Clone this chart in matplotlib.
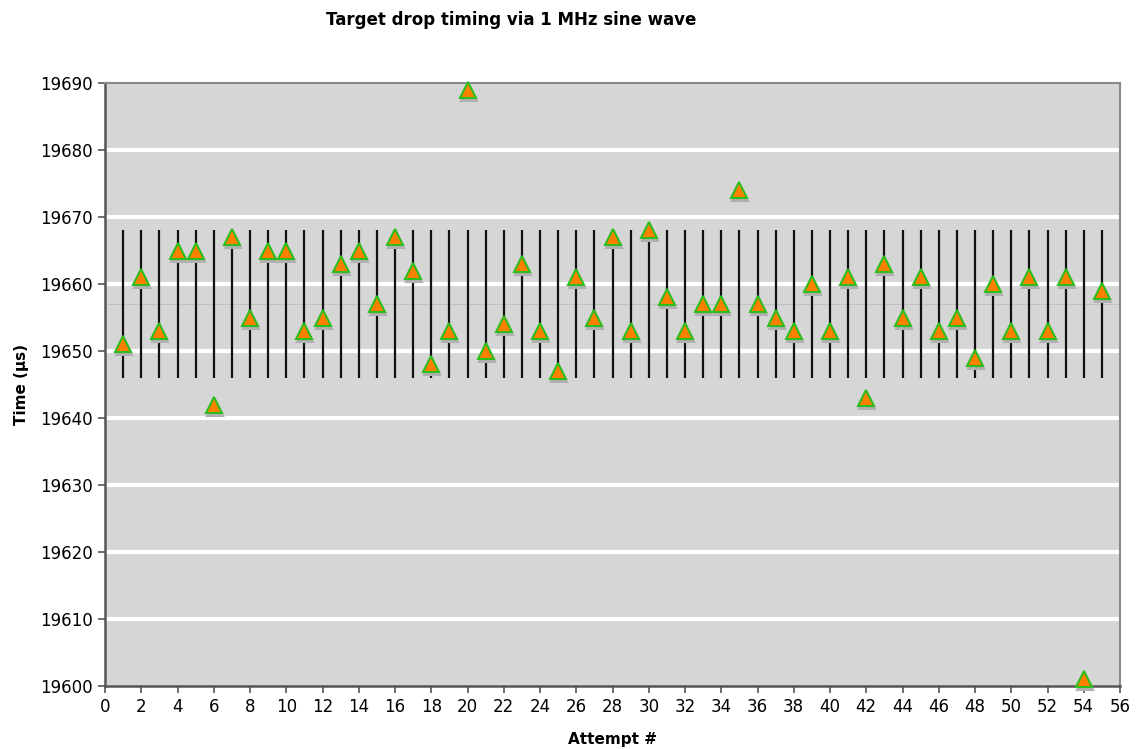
import matplotlib
matplotlib.use("Agg")
import matplotlib.pyplot as plt
import matplotlib.transforms as mtransforms

# ---- data ----
attempts = list(range(1, 56))
times = [19651, 19661, 19653, 19665, 19665, 19642, 19667, 19655, 19665, 19665,
         19653, 19655, 19663, 19665, 19657, 19667, 19662, 19648, 19653, 19689,
         19650, 19654, 19663, 19653, 19647, 19661, 19655, 19667, 19653, 19668,
         19658, 19653, 19657, 19657, 19674, 19657, 19655, 19653, 19660, 19653,
         19661, 19643, 19663, 19655, 19661, 19653, 19655, 19649, 19660, 19653,
         19661, 19653, 19661, 19601, 19659]
range_low = 19646
range_high = 19668
range_mid = 19657
x_ticks = list(range(0, 57, 2))
y_ticks = list(range(19600, 19691, 10))

plt.rcParams['font.family'] = ['DejaVu Sans']

fig = plt.figure(figsize=(11.38, 7.49), dpi=100)
ax = fig.add_axes([105/1138, 1 - 686/749, (1120-105)/1138, (686-83)/749])
ax.set_facecolor('#D6D6D6')

ax.set_xlim(0, 56)
ax.set_ylim(19600, 19690)
ax.set_xticks(x_ticks)
ax.set_yticks(y_ticks)

for y in y_ticks[1:-1]:
    ax.axhline(y, color='white', lw=3, zorder=1)

ax.axhline(range_mid, color='#bdbdbd', lw=0.6, zorder=1.5)
ax.vlines(attempts, range_low, range_high, color='#111111', lw=1.6, zorder=2)

shadow = mtransforms.offset_copy(ax.transData, fig=fig, x=1, y=-3, units='dots')
ax.plot(attempts, times, linestyle='none', marker='^', markersize=11,
        markerfacecolor='#b0b0b0', markeredgecolor='#b0b0b0', markeredgewidth=1.5,
        transform=shadow, zorder=3, clip_on=False)
ax.plot(attempts, times, linestyle='none', marker='^', markersize=11,
        markerfacecolor='#FF8000', markeredgecolor='#2DBE1E', markeredgewidth=1.5,
        zorder=4, clip_on=False)

for s in ['left', 'bottom']:
    ax.spines[s].set_color('#555555')
    ax.spines[s].set_linewidth(1.8)
for s in ['top', 'right']:
    ax.spines[s].set_color('#8a8a8a')
    ax.spines[s].set_linewidth(1.5)

ax.tick_params(axis='both', direction='out', length=5, width=1.2, color='#555555',
               labelsize=12, labelcolor='black', pad=4)

ax.set_xlabel('Attempt #', fontsize=11, fontweight='bold', labelpad=11)
ax.set_ylabel('Time (µs)', fontsize=11, fontweight='bold', labelpad=8)
fig.text(511/1138, 1 - 20/749, 'Target drop timing via 1 MHz sine wave',
         ha='center', va='center', fontsize=12, fontweight='bold')

fig.savefig('out.png', dpi=100, facecolor='white')
